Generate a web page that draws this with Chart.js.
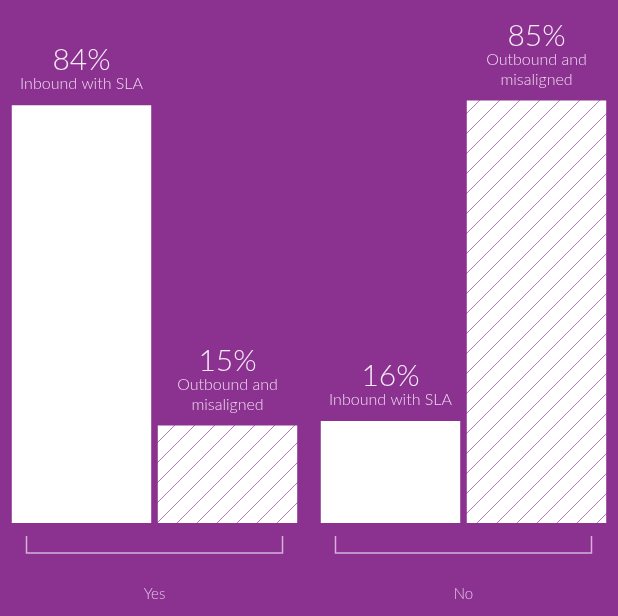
<!DOCTYPE html>
<html>
<head>
<meta charset="utf-8">
<script src="https://cdn.jsdelivr.net/npm/chart.js@4.4.0/dist/chart.umd.min.js"></script>
<style>
  html, body { margin: 0; padding: 0; background: #8b3290; }
  #wrap { width: 618px; height: 616px; }
</style>
</head>
<body>
<div id="wrap"><canvas id="slaChart" width="618" height="616"></canvas></div>
<script>
// data
const categories = ['Yes', 'No'];
const seriesNames = ['Inbound with SLA', 'Outbound and misaligned'];
const seriesLabelLines = [['Inbound with SLA'], ['Outbound and', 'misaligned']];
const inboundValues = [84, 16];
const outboundValues = [15, 85];

const FONT = 'Lato, "Open Sans", sans-serif';

function makeHatch() {
    const size = 20;
    const c = document.createElement('canvas');
    c.width = size;
    c.height = size;
    const ctx = c.getContext('2d');
    ctx.fillStyle = '#ffffff';
    ctx.fillRect(0, 0, size, size);
    ctx.strokeStyle = 'rgba(139,50,144,0.65)';
    ctx.lineWidth = 1;
    ctx.beginPath();
    ctx.moveTo(-2, size + 2);
    ctx.lineTo(size + 2, -2);
    ctx.moveTo(-2, 2);
    ctx.lineTo(2, -2);
    ctx.moveTo(size - 2, size + 2);
    ctx.lineTo(size + 2, size - 2);
    ctx.stroke();
    return ctx.createPattern(c, 'repeat');
}

const barLabels = {
    id: 'barLabels',
    afterDatasetsDraw(chart) {
        const ctx = chart.ctx;
        ctx.save();
        ctx.textAlign = 'center';
        ctx.textBaseline = 'alphabetic';
        chart.data.datasets.forEach((ds, di) => {
            const meta = chart.getDatasetMeta(di);
            const lines = seriesLabelLines[di];
            meta.data.forEach((bar, i) => {
                let y = bar.y - 16;
                ctx.font = '300 16px ' + FONT;
                ctx.fillStyle = '#efd9ef';
                for (let l = lines.length - 1; l >= 0; l--) {
                    ctx.fillText(lines[l], bar.x, y);
                    y -= 20;
                }
                ctx.font = '300 30px ' + FONT;
                ctx.fillStyle = '#f6ebf6';
                ctx.fillText(ds.data[i] + '%', bar.x, y + 1);
            });
        });
        ctx.restore();
    }
};

const groupBrackets = {
    id: 'groupBrackets',
    afterDraw(chart) {
        const ctx = chart.ctx;
        const xScale = chart.scales.x;
        const top = chart.chartArea.bottom + 13;
        const bottom = chart.chartArea.bottom + 30;
        ctx.save();
        ctx.strokeStyle = '#d8b0db';
        ctx.lineWidth = 1.5;
        categories.forEach((c, i) => {
            const cx = xScale.getPixelForValue(i);
            ctx.beginPath();
            ctx.moveTo(cx - 128, top);
            ctx.lineTo(cx - 128, bottom);
            ctx.lineTo(cx + 128, bottom);
            ctx.lineTo(cx + 128, top);
            ctx.stroke();
        });
        ctx.restore();
    }
};

new Chart(document.getElementById('slaChart'), {
    type: 'bar',
    data: {
        labels: categories,
        datasets: [{
            label: seriesNames[0],
            data: inboundValues,
            backgroundColor: '#ffffff',
            base: -6
        }, {
            label: seriesNames[1],
            data: outboundValues,
            backgroundColor: makeHatch(),
            base: -6
        }]
    },
    options: {
        responsive: false,
        animation: false,
        categoryPercentage: 0.945,
        barPercentage: 0.955,
        layout: { padding: { top: 31, bottom: 0, left: 0, right: 0 } },
        scales: {
            y: {
                display: false,
                min: -6,
                max: 100
            },
            x: {
                grid: { display: false, drawTicks: false },
                border: { display: false },
                afterFit(scale) { scale.height = 93; },
                ticks: {
                    padding: 62,
                    color: '#e3c3e5',
                    font: { family: FONT, size: 15, weight: '300' }
                }
            }
        },
        plugins: {
            legend: { display: false },
            tooltip: { enabled: false }
        }
    },
    plugins: [barLabels, groupBrackets]
});
</script>
</body>
</html>
